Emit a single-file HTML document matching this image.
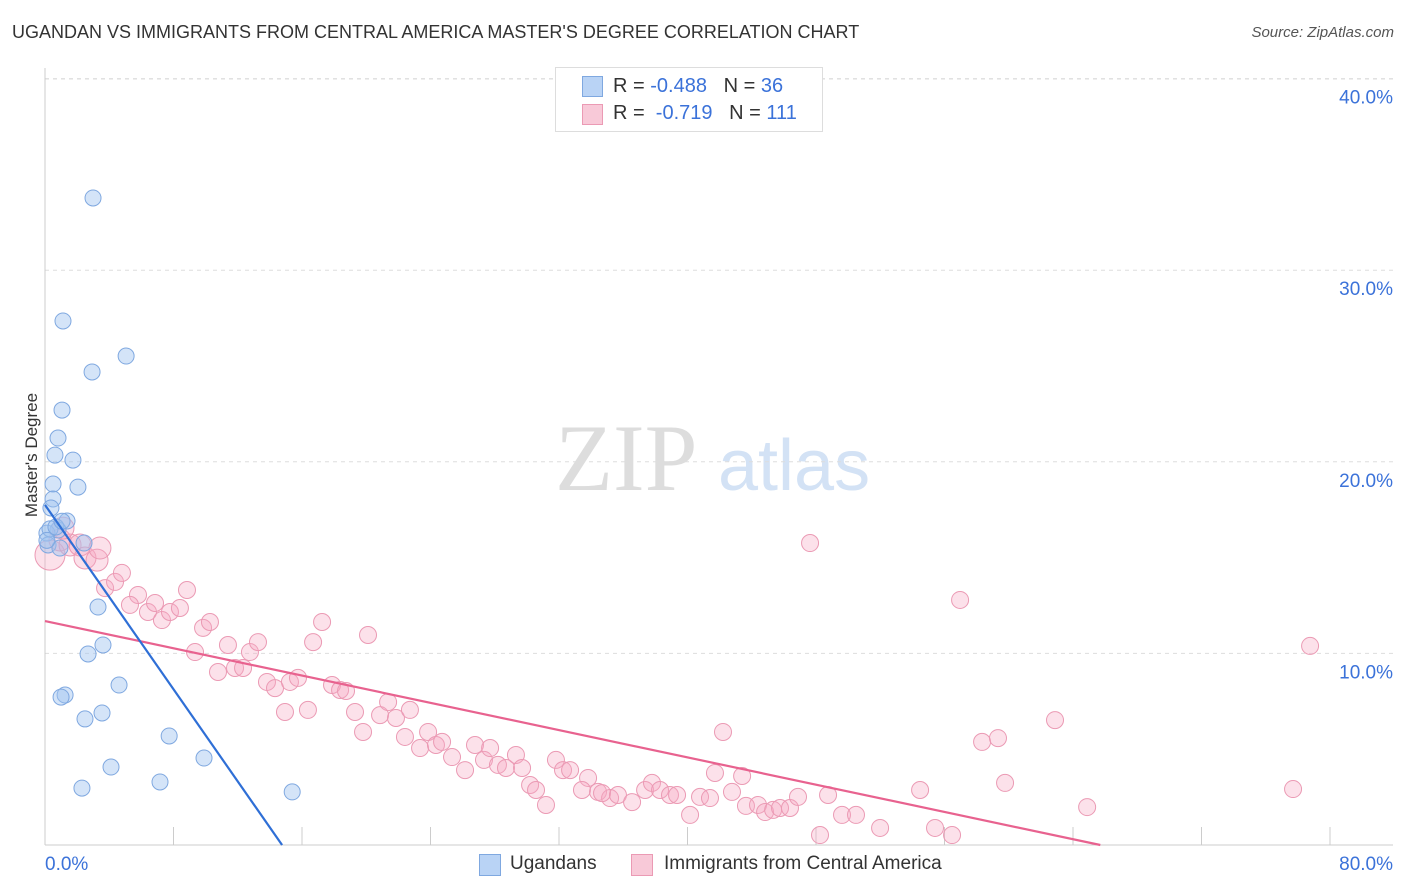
<!DOCTYPE html>
<html><head><meta charset="utf-8"><style>
body{margin:0;background:#fff;font-family:"Liberation Sans",sans-serif;}
#wrap{position:relative;width:1406px;height:892px;overflow:hidden;}
.t{position:absolute;white-space:nowrap;}
</style></head><body>
<div id="wrap">
<div class="t" style="left:12px;top:22px;font-size:18px;color:#333;">UGANDAN VS IMMIGRANTS FROM CENTRAL AMERICA MASTER'S DEGREE CORRELATION CHART</div>
<div class="t" style="right:12px;top:24px;font-size:15px;color:#555;font-style:italic;">Source: ZipAtlas.com</div>
<div class="t" style="left:-30px;top:445px;font-size:17px;color:#333;transform:rotate(-90deg);">Master's Degree</div>
<svg id="plot" width="1406" height="892" style="position:absolute;left:0;top:0;"></svg>
<div style="position:absolute;left:555px;top:67px;width:266px;height:63px;border:1px solid #ddd;background:#fff;">
  <div style="position:absolute;left:26px;top:8px;width:19px;height:19px;background:#b9d3f5;border:1px solid #7fa8e0;"></div>
  <div class="t" style="left:57px;top:7px;font-size:20px;color:#333;">R = <span style="color:#3b72d9">-0.488</span>&nbsp;&nbsp;&nbsp;N = <span style="color:#3b72d9">36</span></div>
  <div style="position:absolute;left:26px;top:36px;width:19px;height:19px;background:#f8c9d8;border:1px solid #eb9ab4;"></div>
  <div class="t" style="left:57px;top:34px;font-size:20px;color:#333;">R = &nbsp;<span style="color:#3b72d9">-0.719</span>&nbsp;&nbsp;&nbsp;N = <span style="color:#3b72d9">111</span></div>
</div>
<div>
  <div style="position:absolute;left:479px;top:854px;width:20px;height:20px;background:#b9d3f5;border:1px solid #7fa8e0;"></div>
  <div class="t" style="left:510px;top:853px;font-size:19px;color:#333;">Ugandans</div>
  <div style="position:absolute;left:631px;top:854px;width:20px;height:20px;background:#f8c9d8;border:1px solid #eb9ab4;"></div>
  <div class="t" style="left:664px;top:853px;font-size:19px;color:#333;">Immigrants from Central America</div>
</div>
</div>
<script>
const yTicks=[10,20,30,40];
const yTickLabels=["10.0%","20.0%","30.0%","40.0%"];
const xTicks=[0,8,16,24,32,40,48,56,64,72,80];
const xEndLabels=["0.0%","80.0%"];
const blueX=[2.99,1.12,5.05,2.93,1.06,0.81,0.62,1.74,2.05,0.5,0.5,0.37,1.37,0.81,0.12,0.19,2.43,0.93,3.3,3.61,2.68,4.61,1.25,1.0,3.55,2.49,7.73,4.11,9.9,7.16,2.3,15.39,0.31,0.68,0.12,1.06];
const blueY=[33.77,27.35,25.52,24.69,22.7,21.24,20.35,20.09,18.68,18.84,18.06,17.59,16.91,16.44,16.28,15.66,15.76,15.5,12.42,10.44,9.97,8.35,7.83,7.72,6.89,6.58,5.69,4.07,4.54,3.29,2.97,2.77,16.5,16.6,15.9,16.9];
const pinkX=[0.31,0.93,1.56,1.12,2.18,2.49,3.24,3.42,3.74,4.36,4.79,5.79,5.29,6.41,6.85,7.28,7.78,8.4,8.84,9.84,10.27,9.34,10.77,11.39,11.83,12.33,12.76,13.26,13.82,14.32,14.94,15.25,15.75,16.37,16.69,17.25,17.87,18.37,18.74,19.3,19.8,20.11,20.86,21.36,21.85,22.41,22.72,23.35,23.85,24.34,24.72,25.34,26.15,26.77,27.33,27.71,28.2,28.7,29.32,29.7,30.2,30.57,31.19,31.81,32.25,32.69,33.81,33.43,34.43,35.18,34.68,35.67,36.55,37.36,37.79,38.29,38.91,39.35,40.16,40.78,41.4,41.71,42.21,42.77,43.4,43.64,44.39,44.83,45.33,45.76,46.38,46.88,47.63,48.25,48.75,49.62,50.49,51.99,54.48,55.41,56.47,56.97,58.34,59.33,59.77,62.88,64.88,77.7,78.76];
const pinkY=[15.13,15.92,15.66,16.54,15.66,14.98,14.87,15.5,13.41,13.73,14.2,13.05,12.53,12.16,12.63,11.74,12.16,12.37,13.31,11.33,11.64,10.07,9.03,10.44,9.24,9.24,10.07,10.59,8.51,8.19,6.94,8.51,8.72,7.05,10.59,11.64,8.35,8.09,8.04,6.94,5.9,10.96,6.78,7.46,6.63,5.64,7.05,5.06,5.9,5.22,5.38,4.59,3.91,5.22,4.44,5.06,4.18,4.02,4.7,4.02,3.13,2.87,2.09,4.44,3.91,3.91,3.5,2.87,2.77,2.45,2.71,2.61,2.24,2.87,3.24,2.87,2.61,2.61,1.57,2.51,2.45,3.76,5.9,2.77,3.6,2.04,2.09,1.72,1.83,1.93,1.93,2.51,15.76,0.52,2.61,1.57,1.57,0.89,2.87,0.89,0.52,12.79,5.38,5.58,3.24,6.52,1.98,2.92,10.39];
const blueTrend=[[0,17.75],[14.76,0]];
const pinkTrend=[[0,11.69],[65.7,0]];
const X0=45,X1=1330,Y0=845,PY=19.16;
const xs=v=>X0+v*(X1-X0)/80;
const ys=v=>Y0-v*PY;
const svg=document.getElementById('plot');
const NS='http://www.w3.org/2000/svg';
function mk(tag,attrs){const e=document.createElementNS(NS,tag);for(const k in attrs)e.setAttribute(k,attrs[k]);svg.appendChild(e);return e;}
let w=mk('text',{x:555,y:490,'font-family':'Liberation Serif, serif','font-size':95,fill:'#ddd'});w.textContent='ZIP';


let w2=mk('text',{x:718,y:490,'font-family':'Liberation Sans, sans-serif','font-size':72,fill:'#d3e2f5'});w2.textContent='atlas';


yTicks.forEach((t,i)=>{
  const g=mk('line',{x1:X0,x2:1393,y1:ys(t),y2:ys(t),stroke:'#ddd','stroke-dasharray':'4,4'});
  
  
  const l=mk('text',{x:1393,y:ys(t)+25,'text-anchor':'end','font-size':19,fill:'#3b72d9','font-family':'Liberation Sans, sans-serif'});
  l.textContent=yTickLabels[i];
  
  
});
const topGrid=mk('line',{x1:X0,x2:1393,y1:79,y2:79,stroke:'#ddd','stroke-dasharray':'4,4'});


const ya=mk('line',{x1:X0,x2:X0,y1:68,y2:Y0,stroke:'#ccc'});


const xa=mk('line',{x1:X0,x2:1393,y1:Y0,y2:Y0,stroke:'#ccc'});


xTicks.forEach(t=>{
  const k=mk('line',{x1:xs(t),x2:xs(t),y1:Y0,y2:Y0-18,stroke:'#ccc'});
  
  
});
const xl0=mk('text',{x:X0,y:870,'font-size':19,fill:'#3b72d9','font-family':'Liberation Sans, sans-serif'});xl0.textContent=xEndLabels[0];


const xl1=mk('text',{x:1393,y:870,'text-anchor':'end','font-size':19,fill:'#3b72d9','font-family':'Liberation Sans, sans-serif'});xl1.textContent=xEndLabels[1];


pinkX.forEach((v,i)=>{
  const r=i===0?15:(i<8?11:8.5);
  const c=mk('circle',{cx:xs(v),cy:ys(pinkY[i]),r:r,fill:'rgba(245,170,195,0.35)',stroke:'#eb9ab4','stroke-width':1});
  
  
});
blueX.forEach((v,i)=>{
  const c=mk('circle',{cx:xs(v),cy:ys(blueY[i]),r:8,fill:'rgba(160,195,240,0.45)',stroke:'#7fa8e0','stroke-width':1});
  
  
});
const pt=mk('line',{x1:xs(pinkTrend[0][0]),y1:ys(pinkTrend[0][1]),x2:xs(pinkTrend[1][0]),y2:ys(pinkTrend[1][1]),stroke:'#e8628f','stroke-width':2.2});


const bt=mk('line',{x1:xs(blueTrend[0][0]),y1:ys(blueTrend[0][1]),x2:xs(blueTrend[1][0]),y2:ys(blueTrend[1][1]),stroke:'#2f6fd6','stroke-width':2.2});


</script>
</body></html>
